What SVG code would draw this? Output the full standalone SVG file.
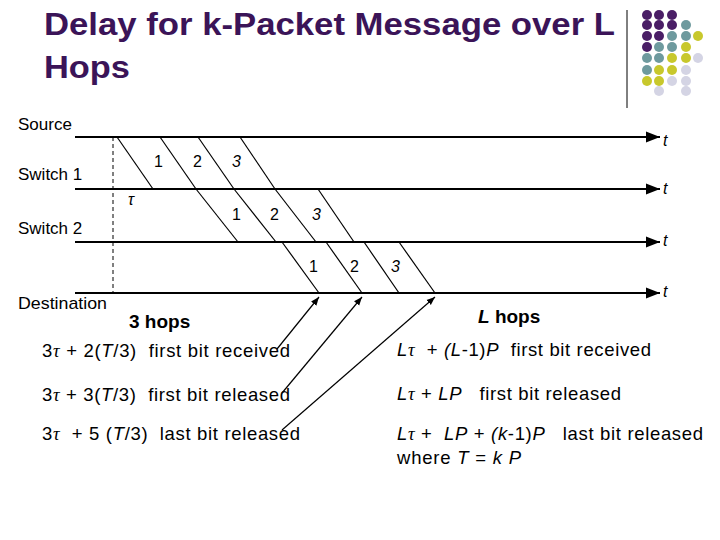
<svg xmlns="http://www.w3.org/2000/svg" width="720" height="540" viewBox="0 0 720 540">
<defs>
<marker id="ah" viewBox="0 0 10 10" refX="10" refY="5" markerWidth="7" markerHeight="7" orient="auto"><path d="M0,1 L10,5 L0,9 z" fill="#000"/></marker>
<style>
text{font-family:"Liberation Sans",Arial,sans-serif;fill:#000}
.t{font-size:32px;font-weight:bold;fill:#3b1458}
.lb{font-size:17px}
.n{font-size:16px}
.it{font-style:italic}
.b{font-size:19px;font-weight:bold}
.f{font-size:18.5px}
.ax{stroke:#000;stroke-width:2;marker-end:url(#ah)}
.d{stroke:#000;stroke-width:1.2}
.P{fill:#4a1e66}.T{fill:#6e9a9e}.Y{fill:#c8c82c}.L{fill:#d4d4e4}
</style>
</defs>
<rect width="720" height="540" fill="#fff"/>
<text class="t" x="44" y="35" textLength="571" lengthAdjust="spacingAndGlyphs">Delay for k-Packet Message over L</text>
<text class="t" x="44" y="78" textLength="86" lengthAdjust="spacingAndGlyphs">Hops</text>
<line x1="627" y1="10" x2="627" y2="108" stroke="#000" stroke-width="1"/>
<g id="dots">
<circle class="P" cx="647" cy="15" r="5"/><circle class="P" cx="659" cy="15" r="5"/><circle class="P" cx="672" cy="15" r="5"/>
<circle class="P" cx="647" cy="25" r="5"/><circle class="P" cx="659" cy="25" r="5"/><circle class="P" cx="672" cy="25" r="5"/><circle class="T" cx="686" cy="25" r="5"/>
<circle class="P" cx="647" cy="36" r="5"/><circle class="P" cx="659" cy="36" r="5"/><circle class="T" cx="672" cy="36" r="5"/><circle class="T" cx="686" cy="36" r="5"/><circle class="Y" cx="698" cy="36" r="5"/>
<circle class="P" cx="647" cy="47" r="5"/><circle class="T" cx="659" cy="47" r="5"/><circle class="T" cx="672" cy="47" r="5"/><circle class="Y" cx="686" cy="47" r="5"/>
<circle class="T" cx="647" cy="58" r="5"/><circle class="T" cx="659" cy="58" r="5"/><circle class="Y" cx="672" cy="58" r="5"/><circle class="Y" cx="686" cy="58" r="5"/><circle class="L" cx="698" cy="58" r="5"/>
<circle class="T" cx="647" cy="70" r="5"/><circle class="Y" cx="659" cy="70" r="5"/><circle class="Y" cx="672" cy="70" r="5"/><circle class="L" cx="686" cy="70" r="5"/>
<circle class="Y" cx="647" cy="81" r="5"/><circle class="Y" cx="659" cy="81" r="5"/><circle class="L" cx="672" cy="81" r="5"/><circle class="L" cx="686" cy="81" r="5"/>
<circle class="L" cx="659" cy="91" r="5"/><circle class="L" cx="686" cy="91" r="5"/>
</g>
<g id="labels">
<text class="lb" x="18" y="130">Source</text>
<text class="lb" x="18" y="180">Switch 1</text>
<text class="lb" x="18" y="234">Switch 2</text>
<text class="lb" x="18" y="309" textLength="89" lengthAdjust="spacingAndGlyphs">Destination</text>
<text class="n it" x="663" y="146">t</text>
<text class="n it" x="663" y="194">t</text>
<text class="n it" x="663" y="246">t</text>
<text class="n it" x="663" y="297">t</text>
<text class="n it" x="128" y="205" font-family="Liberation Serif">τ</text>
<text class="n" x="154" y="167">1</text><text class="n" x="193" y="167">2</text><text class="n it" x="232" y="167">3</text>
<text class="n" x="232" y="220">1</text><text class="n" x="270" y="220">2</text><text class="n it" x="312" y="220">3</text>
<text class="n" x="309" y="272">1</text><text class="n" x="350" y="272">2</text><text class="n it" x="391" y="272">3</text>
</g>
<g id="connectors">
<line class="ax" x1="75" y1="137" x2="660" y2="137"/>
<line class="ax" x1="75" y1="189" x2="660" y2="189"/>
<line class="ax" x1="75" y1="242" x2="660" y2="242"/>
<line class="ax" x1="75" y1="293" x2="660" y2="293"/>
<line x1="113" y1="137" x2="113" y2="293" stroke="#000" stroke-width="1" stroke-dasharray="4,3"/>
<line class="d" x1="117" y1="137" x2="153" y2="189"/><line class="d" x1="160" y1="137" x2="196" y2="189"/><line class="d" x1="198" y1="137" x2="234" y2="189"/><line class="d" x1="240" y1="137" x2="275" y2="189"/>
<line class="d" x1="196" y1="189" x2="238" y2="242"/><line class="d" x1="234" y1="189" x2="276" y2="242"/><line class="d" x1="275" y1="189" x2="316" y2="242"/><line class="d" x1="318" y1="189" x2="354" y2="242"/>
<line class="d" x1="282" y1="242" x2="319" y2="293"/><line class="d" x1="326" y1="242" x2="362" y2="293"/><line class="d" x1="364" y1="242" x2="399" y2="293"/><line class="d" x1="399" y1="242" x2="435" y2="293"/>
<line x1="277" y1="349" x2="319" y2="297" stroke="#000" stroke-width="1.2" marker-end="url(#ah)"/>
<line x1="282" y1="393" x2="362" y2="297" stroke="#000" stroke-width="1.2" marker-end="url(#ah)"/>
<line x1="282" y1="430" x2="435" y2="297" stroke="#000" stroke-width="1.2" marker-end="url(#ah)"/>
</g>
<g id="text">
<text class="b" x="129" y="328">3 hops</text>
<text class="b" x="478" y="323"><tspan font-style="italic">L</tspan> hops</text>
<text class="f" x="42" y="357" textLength="248" xml:space="preserve">3<tspan font-family="Liberation Serif" font-style="italic">τ</tspan> + 2(<tspan class="it">T</tspan>/3)  first bit received</text>
<text class="f" x="42" y="401" textLength="248" xml:space="preserve">3<tspan font-family="Liberation Serif" font-style="italic">τ</tspan> + 3(<tspan class="it">T</tspan>/3)  first bit released</text>
<text class="f" x="42" y="440" textLength="258" xml:space="preserve">3<tspan font-family="Liberation Serif" font-style="italic">τ</tspan>  + 5 (<tspan class="it">T</tspan>/3)  last bit released</text>
<text class="f" x="397" y="356" textLength="254" xml:space="preserve"><tspan class="it">L</tspan><tspan font-family="Liberation Serif" font-style="italic">τ</tspan>  + <tspan class="it">(L</tspan>-1)<tspan class="it">P</tspan>  first bit received</text>
<text class="f" x="397" y="400" textLength="224" xml:space="preserve"><tspan class="it">L</tspan><tspan font-family="Liberation Serif" font-style="italic">τ</tspan> + <tspan class="it">LP</tspan>   first bit released</text>
<text class="f" x="397" y="440" textLength="306" xml:space="preserve"><tspan class="it">L</tspan><tspan font-family="Liberation Serif" font-style="italic">τ</tspan> +  <tspan class="it">LP</tspan> + <tspan class="it">(k</tspan>-1)<tspan class="it">P</tspan>   last bit released</text>
<text class="f" x="397" y="464" textLength="124" xml:space="preserve">where <tspan class="it">T</tspan> = <tspan class="it">k P</tspan></text>
</g>
</svg>
